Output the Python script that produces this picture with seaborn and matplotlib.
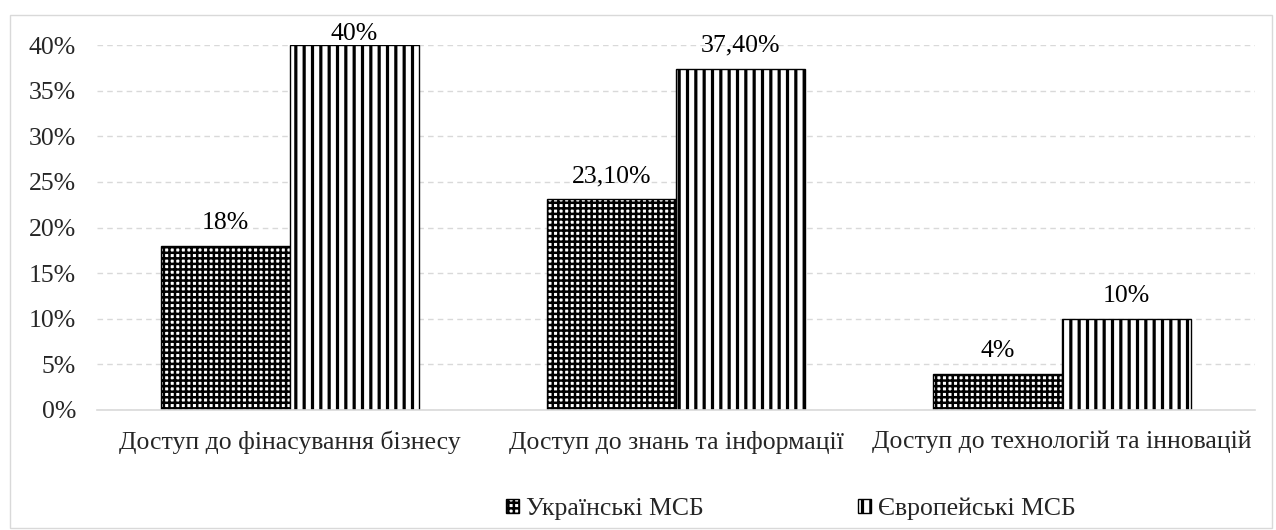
import matplotlib
matplotlib.use("Agg")
import matplotlib.pyplot as plt
import seaborn as sns
import pandas as pd
from matplotlib.patches import Rectangle, Patch

categories = ["Доступ до фінасування бізнесу", "Доступ до знань та інформації", "Доступ до технологій та інновацій"]
series = ["Українські МСБ", "Європейські МСБ"]
ukr_values = [0.18, 0.231, 0.04]
eur_values = [0.40, 0.374, 0.10]
ukr_labels = ["18%", "23,10%", "4%"]
eur_labels = ["40%", "37,40%", "10%"]
y_ticks = [0, 0.05, 0.10, 0.15, 0.20, 0.25, 0.30, 0.35, 0.40]
y_tick_labels = ["0%", "5%", "10%", "15%", "20%", "25%", "30%", "35%", "40%"]

df = pd.DataFrame({
    "cat": categories * 2,
    "series": [series[0]] * 3 + [series[1]] * 3,
    "val": ukr_values + eur_values,
})

FS = 18.5
YMAX = 0.40
sns.set_theme(style="white")
plt.rcParams["font.family"] = ["Liberation Serif", "DejaVu Serif"]
plt.rcParams["hatch.linewidth"] = 2.2
plt.rcParams["hatch.color"] = "black"

fig = plt.figure(figsize=(12.76, 5.30), dpi=100)
ax = fig.add_axes([97 / 1276, 1 - 410 / 530, 1158 / 1276, 365 / 530])

sns.barplot(data=df, x="cat", y="val", hue="series", order=categories, hue_order=series,
            palette=["white", "white"], width=0.668, ax=ax, legend=False,
            edgecolor="black", linewidth=1.0, saturation=1)

hatches = {series[0]: "+++", series[1]: "||"}
hlw = {series[0]: 1.8, series[1]: 2.3}


def style_patch(p, s):
    p.set_hatch(hatches[s])
    p.set_edgecolor("black")
    if hasattr(p, "set_hatch_linewidth"):
        p.set_hatch_linewidth(hlw[s])


for container, s, labs, vals in zip(ax.containers, series, [ukr_labels, eur_labels], [ukr_values, eur_values]):
    for bar in container:
        style_patch(bar, s)
    texts = ax.bar_label(container, labels=labs, padding=8.5, fontsize=FS, color="#000000")
    for t, v in zip(texts, vals):
        if v >= YMAX:
            t.xyann = (0, 0)

ax.set_ylim(0, YMAX)
ax.set_xlim(-0.5, 2.5)
ax.set_yticks(y_ticks)
ax.set_yticklabels(y_tick_labels, fontsize=FS)
ax.tick_params(axis="x", labelsize=FS, pad=9)
ax.tick_params(axis="y", pad=9)
ax.set_xlabel("")
ax.set_ylabel("")
ax.yaxis.grid(True, linestyle=(0, (4, 3)), color="#D9D9D9", linewidth=1)
ax.set_axisbelow(True)
for side in ["top", "right", "left"]:
    ax.spines[side].set_visible(False)
ax.spines["bottom"].set_color("#D9D9D9")
ax.spines["bottom"].set_linewidth(1.2)

handles = []
for s in series:
    h = Patch(facecolor="white", edgecolor="black", hatch=hatches[s], label=s)
    handles.append(h)
leg = fig.legend(handles=handles, loc="center left", bbox_to_anchor=(506 / 1276, 1 - 509 / 530), ncol=2,
                 frameon=False, fontsize=FS, handlelength=0.5, handleheight=0.5,
                 handletextpad=0.28, columnspacing=6.0, borderpad=0, borderaxespad=0)
for p, s in zip(leg.get_patches(), series):
    style_patch(p, s)

fig.patches.append(Rectangle((10 / 1276, 2 / 530), 1262 / 1276, 513 / 530, transform=fig.transFigure,
                             fill=False, edgecolor="#D9D9D9", linewidth=1))

fig.savefig("out.png", dpi=100)
